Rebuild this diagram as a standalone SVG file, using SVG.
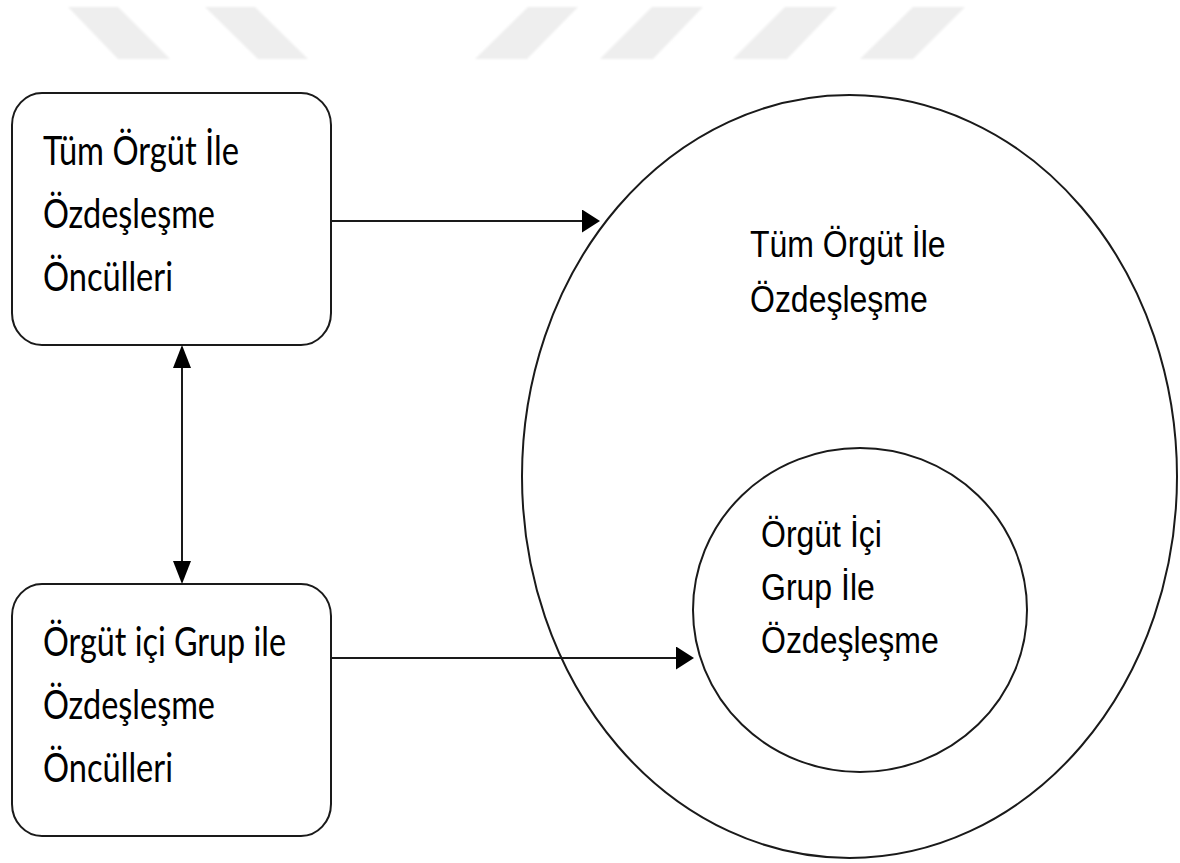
<svg xmlns="http://www.w3.org/2000/svg" width="1180" height="863" viewBox="0 0 1180 863">
  <defs>
    <style>
      .box { fill: #ffffff; stroke: #1a1a1a; stroke-width: 2; }
      .ring { fill: none; stroke: #1a1a1a; stroke-width: 2; }
      .link { fill: none; stroke: #1a1a1a; stroke-width: 2; }
      .lbl { font-family: "Lato", "Open Sans", sans-serif; font-size: 34px; fill: #000000; }
      .cap { font-family: "Liberation Sans", Arial, sans-serif; font-size: 32px; fill: #000000; }
      .band { fill: #eeeeee; }
    </style>
    <filter id="soft" x="-10%" y="-20%" width="120%" height="140%">
      <feGaussianBlur stdDeviation="1.2"/>
    </filter>
    <!-- arrowhead for horizontal links -->
    <marker id="arrow-h" viewBox="0 0 18 23" refX="0" refY="11.5" markerWidth="18" markerHeight="23" markerUnits="userSpaceOnUse" orient="auto">
      <path d="M0,0 L18,11.5 L0,23 Z" fill="#000000"/>
    </marker>
    <!-- arrowhead for the vertical link (taller than wide) -->
    <marker id="arrow-v" viewBox="0 0 23 18" refX="0" refY="9" markerWidth="23" markerHeight="18" markerUnits="userSpaceOnUse" orient="auto-start-reverse">
      <path d="M0,0 L23,9 L0,18 Z" fill="#000000"/>
    </marker>
  </defs>

  <rect width="1180" height="863" fill="#ffffff"/>

  <!-- faint slanted bands along the top edge -->
  <g id="bands" class="band" filter="url(#soft)">
    <polygon points="68,7 118,7 170,59 118,59"/>
    <polygon points="205,7 255,7 308,59 258,59"/>
    <polygon points="528,7 578,7 527,59 475,59"/>
    <polygon points="652,7 703,7 653,59 600,59"/>
    <polygon points="785,7 837,7 787,59 733,59"/>
    <polygon points="913,7 965,7 913,59 860,59"/>
  </g>

  <!-- outer and inner identification circles -->
  <g id="node-whole-org">
    <ellipse class="ring" cx="849.5" cy="476.5" rx="327.5" ry="381.5"/>
    <text class="cap" transform="translate(750,257) scale(1,1.17)">Tüm Örgüt İle</text>
    <text class="cap" transform="translate(750,312) scale(1,1.17)">Özdeşleşme</text>
  </g>

  <g id="node-subgroup">
    <ellipse class="ring" cx="860" cy="610" rx="167" ry="162"/>
    <text class="cap" transform="translate(761,547) scale(1,1.17)">Örgüt İçi</text>
    <text class="cap" transform="translate(761,600) scale(1,1.17)">Grup İle</text>
    <text class="cap" transform="translate(761,653) scale(1,1.17)">Özdeşleşme</text>
  </g>

  <!-- antecedent boxes -->
  <g id="node-antecedents-org">
    <rect class="box" x="12" y="93" width="319" height="252" rx="30" ry="32"/>
    <text class="lbl" transform="translate(43,165) scale(1,1.2)" textLength="196" lengthAdjust="spacingAndGlyphs">Tüm Örgüt İle</text>
    <text class="lbl" transform="translate(43,228) scale(1,1.2)" textLength="172" lengthAdjust="spacingAndGlyphs">Özdeşleşme</text>
    <text class="lbl" transform="translate(43,291) scale(1,1.2)" textLength="130" lengthAdjust="spacingAndGlyphs">Öncülleri</text>
  </g>

  <g id="node-antecedents-group">
    <rect class="box" x="12" y="584" width="319" height="252" rx="30" ry="32"/>
    <text class="lbl" transform="translate(43,656) scale(1,1.2)" textLength="243" lengthAdjust="spacingAndGlyphs">Örgüt içi Grup ile</text>
    <text class="lbl" transform="translate(43,719) scale(1,1.2)" textLength="172" lengthAdjust="spacingAndGlyphs">Özdeşleşme</text>
    <text class="lbl" transform="translate(43,782) scale(1,1.2)" textLength="130" lengthAdjust="spacingAndGlyphs">Öncülleri</text>
  </g>

  <!-- connectors -->
  <g id="connectors">
    <line class="link" x1="331" y1="221" x2="582" y2="221" marker-end="url(#arrow-h)"/>
    <line class="link" x1="331" y1="658" x2="676" y2="658" marker-end="url(#arrow-h)"/>
    <line class="link" x1="182" y1="368" x2="182" y2="561" marker-start="url(#arrow-v)" marker-end="url(#arrow-v)"/>
  </g>
</svg>
